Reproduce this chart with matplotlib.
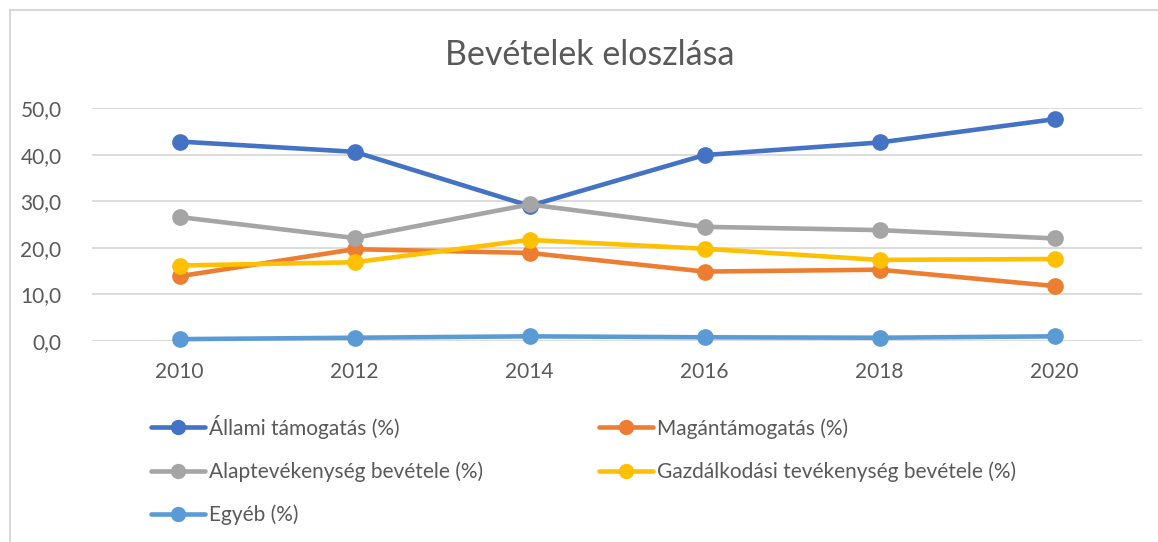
import matplotlib
matplotlib.use("Agg")
import matplotlib.pyplot as plt
from matplotlib.ticker import FuncFormatter

plt.rcParams['font.family'] = ['Lato', 'DejaVu Sans']

years = ["2010", "2012", "2014", "2016", "2018", "2020"]
allami = [42.8, 40.6, 29.0, 39.9, 42.6, 47.6]
magan = [13.9, 19.7, 18.9, 14.9, 15.3, 11.8]
alap = [26.6, 22.1, 29.3, 24.5, 23.8, 22.0]
gazd = [16.2, 16.9, 21.7, 19.8, 17.4, 17.6]
egyeb = [0.4, 0.7, 1.0, 0.8, 0.7, 1.0]

series = [
    ("Állami támogatás (%)", allami, "#4472C4"),
    ("Magántámogatás (%)", magan, "#ED7D31"),
    ("Alaptevékenység bevétele (%)", alap, "#A5A5A5"),
    ("Gazdálkodási tevékenység bevétele (%)", gazd, "#FFC000"),
    ("Egyéb (%)", egyeb, "#5B9BD5"),
]

txt = "#595959"
fig = plt.figure(figsize=(11.58, 5.42), dpi=100)
ax = fig.add_axes([92/1158, 1 - 341/542, 1050/1158, 233/542])

x = range(len(years))
lines = []
for name, vals, col in series:
    l, = ax.plot(x, vals, color=col, lw=3.3, marker="o", ms=11, label=name,
                 clip_on=False, solid_capstyle="round")
    lines.append(l)

ax.set_xlim(-0.5, len(years) - 0.5)
ax.set_ylim(0, 50)
ax.set_yticks(range(0, 51, 10))
ax.yaxis.set_major_formatter(FuncFormatter(lambda v, p: f"{v:.1f}".replace(".", ",")))
ax.set_xticks(list(x))
ax.set_xticklabels(years)
ax.grid(axis="y", color="#D9D9D9", lw=1.3)
ax.set_axisbelow(True)
for s in ax.spines.values():
    s.set_visible(False)
ax.tick_params(length=0, labelsize=15, colors=txt)
ax.tick_params(axis="x", pad=15)
ax.tick_params(axis="y", pad=22)

fig.text(590/1158, 1 - 55/542, "Bevételek eloszlása", ha="center", va="center",
         fontsize=24.5, color=txt)

# row-major order like Excel: fill column 1 with entries 0,2,4 and column 2 with 1,3
order = [0, 2, 4, 1, 3]
leg = fig.legend([lines[i] for i in order], [series[i][0] for i in order],
                 loc="upper left", bbox_to_anchor=(132/1158, 1 - 396/542), ncol=2,
                 frameon=False, fontsize=15, labelcolor=txt, handlelength=2.6,
                 handletextpad=0.2, columnspacing=5.55, labelspacing=1.08)
for h in leg.legend_handles:
    h.set_markersize(10)

# chart frame
fig.add_artist(plt.Line2D([10/1158, 10/1158], [0, 1 - 10/542], color="#D9D9D9", lw=1.5))
fig.add_artist(plt.Line2D([10/1158, 1], [1 - 10/542, 1 - 10/542], color="#D9D9D9", lw=1.5))

fig.savefig("out.png", dpi=100)
